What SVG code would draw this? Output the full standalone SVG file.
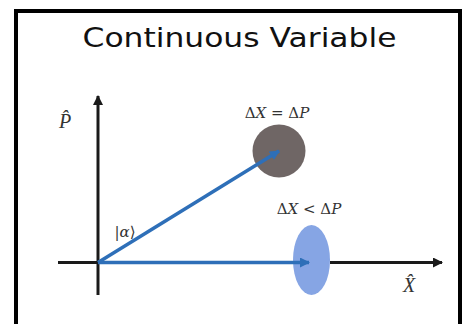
<svg xmlns="http://www.w3.org/2000/svg" width="464" height="324" viewBox="0 0 464 324">
  <defs>
    <marker id="ah-black" viewBox="0 0 10 10" refX="9" refY="5" markerWidth="10" markerHeight="10" markerUnits="userSpaceOnUse" orient="auto">
      <path d="M0,0 L10,5 L0,10 Z" fill="#1a1a1a"/>
    </marker>
    <marker id="ah-blue" viewBox="0 0 10 10" refX="9" refY="5" markerWidth="10" markerHeight="10" markerUnits="userSpaceOnUse" orient="auto">
      <path d="M0,0 L10,5 L0,10 Z" fill="#2e6fb8"/>
    </marker>
  </defs>
  <style>
    .title { font-family: "DejaVu Sans", "Liberation Sans", sans-serif; font-size: 27px; fill: #111; }
    .math { font-family: "Liberation Serif", "DejaVu Serif", serif; fill: #333; }
    .eq { font-family: "DejaVu Serif", "Liberation Serif", serif; fill: #333; font-size: 15px; }
    .axis { stroke: #1a1a1a; stroke-width: 3; fill: none; }
    .vec { stroke: #2e6fb8; stroke-width: 3.5; fill: none; }
  </style>
  <rect width="464" height="324" fill="#ffffff"/>
  <rect id="frame" x="16" y="11" width="444" height="330" fill="none" stroke="#000" stroke-width="4"/>
  <text class="title" x="239.5" y="47" text-anchor="middle" textLength="314" lengthAdjust="spacingAndGlyphs">Continuous Variable</text>

  <g id="state-circle">
    <circle cx="279" cy="151" r="26.5" fill="#6f6665"/>
  </g>
  <g id="squeezed-ellipse">
    <ellipse cx="311.5" cy="260" rx="18.5" ry="35" fill="#86a5e4"/>
  </g>

  <g id="connectors">
    <line id="p-axis" class="axis" x1="98" y1="295" x2="98" y2="96" marker-end="url(#ah-black)"/>
    <line id="x-axis-left" class="axis" x1="58" y1="262.5" x2="98" y2="262.5"/>
    <line id="x-axis-right" class="axis" x1="330" y1="262.5" x2="442" y2="262.5" marker-end="url(#ah-black)"/>
    <line id="vec-alpha" class="vec" x1="98" y1="262.5" x2="279" y2="151" marker-end="url(#ah-blue)"/>
    <line id="vec-x" class="vec" x1="98" y1="262.5" x2="309" y2="262.5" marker-end="url(#ah-blue)"/>
  </g>

  <g id="labels">
    <text class="eq" x="277" y="118" text-anchor="middle">Δ<tspan font-style="italic">X</tspan> = Δ<tspan font-style="italic">P</tspan></text>
    <text class="eq" x="309" y="214" text-anchor="middle">Δ<tspan font-style="italic">X</tspan> &lt; Δ<tspan font-style="italic">P</tspan></text>
    <text class="eq" x="125" y="237" text-anchor="middle">|<tspan font-style="italic">α</tspan>⟩</text>
    <text class="math" x="65" y="128" font-size="20" font-style="italic" text-anchor="middle">P̂</text>
    <text class="math" x="409" y="292" font-size="20" font-style="italic" text-anchor="middle">X̂</text>
  </g>
</svg>
